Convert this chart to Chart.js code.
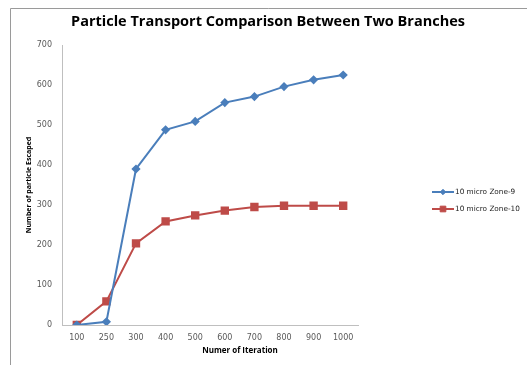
<!DOCTYPE html>
<html>
<head>
<meta charset="utf-8">
<script src="https://cdn.jsdelivr.net/npm/chart.js@4.4.1/dist/chart.umd.min.js"></script>
<style>
  html, body { margin: 0; padding: 0; background: #fff; }
  #wrap { position: relative; width: 527px; height: 365px; }
</style>
</head>
<body>
<div id="wrap"><canvas id="c" width="527" height="365"></canvas></div>
<script>
// Iteration counts on the x axis
const iterations = ['100', '250', '300', '400', '500', '600', '700', '800', '900', '1000'];
// Number of escaped particles per branch
const zone9 = [0, 8, 390, 488, 509, 556, 571, 596, 613, 625];
const zone10 = [0, 59, 204, 259, 274, 286, 295, 298, 298, 298];
const seriesNames = ['10 micro Zone-9', '10 micro Zone-10'];
const chartTitle = 'Particle Transport Comparison Between Two Branches';
const xTitle = 'Numer of Iteration';
const yTitle = 'Number of particle Escaped';

const BLUE = '#4a7ebb';
const RED = '#be4b48';
const AXIS = '#bfbfbf';
const TICK = '#595959';

// Outer frame, title, x-axis caption and the legend box on the right
const decor = {
  id: 'decor',
  beforeDraw(chart) {
    const ctx = chart.ctx;
    ctx.save();
    ctx.fillStyle = '#fff';
    ctx.fillRect(0, 0, chart.width, chart.height);
    ctx.strokeStyle = '#9a9a9a';
    ctx.lineWidth = 1;
    ctx.beginPath();
    ctx.moveTo(10.5, chart.height);
    ctx.lineTo(10.5, 8.5);
    ctx.lineTo(chart.width, 8.5);
    ctx.stroke();
    ctx.restore();
  },
  afterDraw(chart) {
    const ctx = chart.ctx;
    ctx.save();
    ctx.fillStyle = '#000';
    ctx.textAlign = 'center';
    ctx.textBaseline = 'middle';
    ctx.font = 'bold 14.5px "Open Sans"';
    ctx.fillText(chartTitle, 268, 22);
    ctx.font = 'bold 8px "Open Sans"';
    ctx.fillText(xTitle, 240, 351);

    // legend
    const items = chart.data.datasets;
    ctx.font = '7.3px "DejaVu Sans"';
    ctx.textAlign = 'left';
    items.forEach((ds, i) => {
      const y = 192 + i * 17;
      ctx.strokeStyle = ds.borderColor;
      ctx.lineWidth = 2;
      ctx.beginPath();
      ctx.moveTo(432, y);
      ctx.lineTo(454, y);
      ctx.stroke();
      ctx.fillStyle = ds.pointBackgroundColor;
      ctx.strokeStyle = ds.pointBorderColor;
      ctx.lineWidth = 1;
      Chart.helpers.drawPoint(ctx, {
        pointStyle: ds.pointStyle,
        radius: ds.pointRadius - 0.5,
        borderWidth: 1
      }, 443, y);
      ctx.fillStyle = '#222';
      ctx.fillText(ds.label, 455, y + 0.5);
    });
    ctx.restore();
  }
};

new Chart(document.getElementById('c'), {
  type: 'line',
  data: {
    labels: iterations,
    datasets: [
      {
        label: seriesNames[0],
        data: zone9,
        borderColor: BLUE,
        backgroundColor: BLUE,
        pointBackgroundColor: BLUE,
        pointBorderColor: BLUE,
        pointStyle: 'rectRot',
        pointRadius: 3.2,
        borderWidth: 2,
        tension: 0
      },
      {
        label: seriesNames[1],
        data: zone10,
        borderColor: RED,
        backgroundColor: RED,
        pointBackgroundColor: RED,
        pointBorderColor: RED,
        pointStyle: 'rect',
        pointRadius: 4.5,
        borderWidth: 2,
        tension: 0
      }
    ]
  },
  options: {
    responsive: false,
    animation: false,
    devicePixelRatio: 1,
    layout: { padding: { left: 10, right: 169, top: 45, bottom: 0 } },
    plugins: {
      legend: { display: false },
      title: { display: false },
      tooltip: { enabled: false }
    },
    scales: {
      x: {
        offset: true,
        grid: { display: false, drawTicks: false },
        border: { display: true, color: AXIS, width: 1 },
        ticks: {
          color: TICK,
          font: { family: 'DejaVu Sans', size: 8 },
          padding: 8,
          maxRotation: 0,
          autoSkip: false
        },
        afterFit(scale) { scale.height = 40; }
      },
      y: {
        min: 0,
        max: 700,
        grid: { display: false, drawTicks: false },
        border: { display: true, color: AXIS, width: 1 },
        ticks: {
          stepSize: 100,
          color: TICK,
          font: { family: 'DejaVu Sans', size: 8 },
          padding: 10
        },
        title: {
          display: true,
          text: yTitle,
          color: '#000',
          font: { family: 'Open Sans', size: 7, weight: 'bold' },
          padding: { top: 15, bottom: 0 }
        },
        afterFit(scale) { scale.width = 52; }
      }
    }
  },
  plugins: [decor]
});
</script>
</body>
</html>
